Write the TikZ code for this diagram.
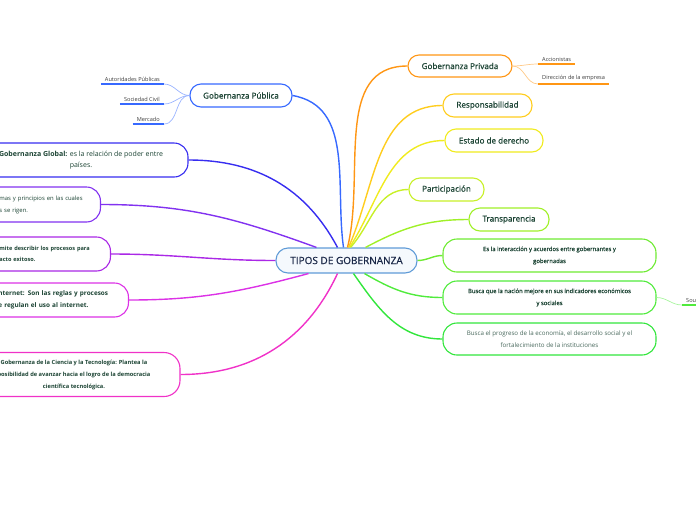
\documentclass[tikz,border=0pt]{standalone}
\usepackage{fontspec}
\setmainfont{Open Sans}
\newfontfamily\semib[FakeBold=0.7]{Open Sans}
\usetikzlibrary{positioning}

\definecolor{txtgreen}{RGB}{28,68,52}
\definecolor{txtnavy}{RGB}{24,38,70}
\definecolor{leaftext}{RGB}{60,60,60}
\definecolor{cTipos}{RGB}{95,155,215}
\definecolor{cPub}{RGB}{55,105,255}
\definecolor{cGlob}{RGB}{55,45,240}
\definecolor{cNorm}{RGB}{130,50,240}
\definecolor{cProc}{RGB}{170,40,230}
\definecolor{cInet}{RGB}{220,50,230}
\definecolor{cCien}{RGB}{240,50,200}
\definecolor{cPriv}{RGB}{255,150,20}
\definecolor{cResp}{RGB}{255,205,30}
\definecolor{cEst}{RGB}{240,235,30}
\definecolor{cPart}{RGB}{200,240,40}
\definecolor{cTransp}{RGB}{160,240,40}
\definecolor{cInter}{RGB}{110,235,50}
\definecolor{cBusca}{RGB}{80,235,60}
\definecolor{cProg}{RGB}{50,230,60}

\tikzstyle{base} = [draw, line width=1.1pt, fill=white, text=txtgreen, align=center, inner sep=0pt]
\tikzstyle{topic} = [base, rounded corners=11pt, minimum height=23pt, font=\semib\fontsize{8.1}{10}\selectfont]
\tikzstyle{card} = [base, rounded corners=14pt, minimum height=33pt]
\tikzstyle{cut} = [card, align=left, inner xsep=18pt]
\tikzstyle{leaf} = [inner xsep=4pt, inner ysep=2.5pt, text=leaftext, font=\fontsize{5.6}{7}\selectfont]
\tikzstyle{branch} = [line width=1.4pt]
\tikzstyle{twig} = [line width=0.7pt]
\tikzstyle{stem} = [line width=1.8pt]

\begin{document}
\begin{tikzpicture}[x=1pt, y=-1pt]

	\useasboundingbox (0,0) rectangle (696,520);
	\clip (0,0) rectangle (696,520);

	% centre
	\node [base, draw=cTipos, fill=cTipos!6, rounded corners=12pt, minimum width=141pt, minimum height=25pt, text=txtnavy, font=\semib\fontsize{10}{12}\selectfont] at (346.5,260.5) (tipos) {TIPOS DE GOBERNANZA};

	% left side
	\node [topic, draw=cPub, minimum width=102pt] at (241,95.5) (pub) {Gobernanza Pública};
	\node [card, draw=cGlob, minimum width=214pt, minimum height=34pt, font=\fontsize{7}{11}\selectfont] at (81,160) (glob) {\textbf{Gobernanza Global:} es la relación de poder entre\\países.};
	\node [cut, draw=cNorm, minimum height=35pt, text width=86pt, inner xsep=15pt, font=\fontsize{5.9}{12}\selectfont, anchor=east] at (101,204.5) (norm) {mas y principios en las cuales\\s se rigen.};
	\node [cut, draw=cProc, minimum height=34pt, text width=91pt, inner xsep=20pt, font=\bfseries\fontsize{5.6}{11}\selectfont, anchor=east] at (111,254) (proc) {mite describir los procesos para\\acto exitoso.};
	\node [cut, draw=cInet, minimum height=34pt, text width=110pt, inner xsep=20pt, font=\bfseries\fontsize{6.4}{11.5}\selectfont, anchor=east] at (129,300) (inet) {nternet: Son las reglas y procesos\\e regulan el uso al internet.};
	\node [card, draw=cCien, rounded corners=16pt, minimum width=212pt, minimum height=44pt, font=\bfseries\fontsize{5.7}{12}\selectfont] at (74,374.5) (cien) {Gobernanza de la Ciencia y la Tecnología: Plantea la\\posibilidad de avanzar hacia el logro de la democracia\\científica tecnológica.};

	\node [leaf, anchor=south east] at (164,84) (aut) {Autoridades Públicas};
	\node [leaf, anchor=south east] at (164,104) (soc) {Sociedad Civil};
	\node [leaf, anchor=south east] at (164,124) (merc) {Mercado};

	% right side
	\node [topic, draw=cPriv, minimum width=104pt, minimum height=22pt] at (460,66) (priv) {Gobernanza Privada};
	\node [topic, draw=cResp, minimum width=89pt] at (487.5,105.5) (resp) {Responsabilidad};
	\node [topic, draw=cEst, minimum width=98pt] at (494,140.5) (est) {Estado de derecho};
	\node [topic, draw=cPart, minimum width=75pt] at (446.5,189.5) (part) {Participación};
	\node [topic, draw=cTransp, minimum width=80pt] at (509,219.5) (transp) {Transparencia};
	\node [card, draw=cInter, minimum width=213pt, font=\semib\fontsize{5.9}{12}\selectfont] at (549.5,255.5) (inter) {Es la interacción y acuerdos entre gobernantes y\\gobernadas};
	\node [card, draw=cBusca, minimum width=213pt, font=\semib\fontsize{5.9}{12}\selectfont] at (549.5,297.5) (busca) {Busca que la nación mejore en sus indicadores económicos\\y sociales};
	\node [card, draw=cProg, minimum width=213pt, minimum height=32pt, text=txtgreen!80, font=\fontsize{6.2}{12}\selectfont] at (549.5,339) (prog) {Busca el progreso de la economía, el desarrollo social y el\\fortalecimiento de la instituciones};

	\node [leaf, anchor=south west] at (538,64) (acc) {Accionistas};
	\node [leaf, anchor=south west] at (538,84) (dir) {Dirección de la empresa};
	\node [leaf, anchor=south west] at (682,305) (sou) {Sou};

	% branches from the centre
	\draw [branch, cPub] ([xshift=-3pt]tipos.north) to[out=98, in=-10] (pub.east);
	\draw [branch, cGlob] ([xshift=-9pt]tipos.north) to[out=118, in=0] (glob.east);
	\draw [branch, cNorm] ([xshift=-30pt]tipos.north) to[out=160, in=0] (norm.east);
	\draw [branch, cProc] (tipos.west) to[out=180, in=0] (proc.east);
	\draw [branch, cInet] ([xshift=-38pt]tipos.south) to[out=195, in=0] (inet.east);
	\draw [branch, cCien] ([xshift=-9pt]tipos.south) to[out=245, in=0] (cien.east);

	\draw [branch, cPriv] ([xshift=1pt]tipos.north) to[out=76, in=180] (priv.west);
	\draw [branch, cResp] ([xshift=2pt]tipos.north) to[out=66, in=180] (resp.west);
	\draw [branch, cEst] ([xshift=3pt]tipos.north) to[out=57, in=180] (est.west);
	\draw [branch, cPart] ([xshift=4pt]tipos.north) to[out=48, in=180] (part.west);
	\draw [branch, cTransp] ([xshift=19pt]tipos.north) to[out=28, in=180] (transp.west);
	\draw [branch, cInter] (tipos.east) to[out=0, in=180] (inter.west);
	\draw [branch, cBusca] ([xshift=18pt]tipos.south) to[out=-30, in=180] (busca.west);
	\draw [branch, cProg] ([xshift=7pt]tipos.south) to[out=-55, in=180] (prog.west);

	% sub-branches
	\draw [twig, cPub!50] (pub.west) to[out=180, in=0] (aut.south east);
	\draw [twig, cPub!50] (pub.west) to[out=180, in=0] (soc.south east);
	\draw [twig, cPub!50] (pub.west) to[out=180, in=0] (merc.south east);
	\draw [stem, cPub] (aut.south west) -- (aut.south east);
	\draw [stem, cPub] (soc.south west) -- (soc.south east);
	\draw [stem, cPub] (merc.south west) -- (merc.south east);

	\draw [twig, cPriv!50] (priv.east) to[out=0, in=180] (acc.south west);
	\draw [twig, cPriv!50] (priv.east) to[out=0, in=180] (dir.south west);
	\draw [stem, cPriv] (acc.south west) -- (acc.south east);
	\draw [stem, cPriv] (dir.south west) -- (dir.south east);

	\draw [twig, cBusca!50] (busca.east) to[out=0, in=180] (sou.south west);
	\draw [stem, cBusca] (sou.south west) -- ++(20,0);

\end{tikzpicture}
\end{document}
